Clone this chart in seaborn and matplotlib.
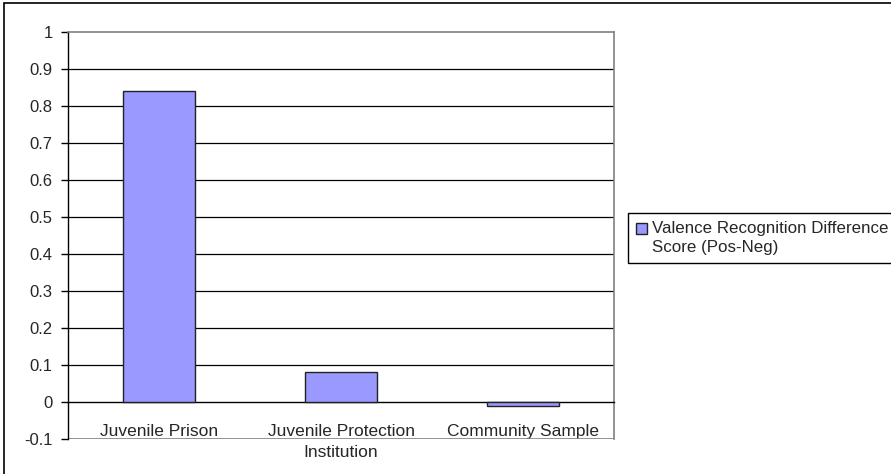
import pandas as pd
import seaborn as sns
import matplotlib.pyplot as plt
import matplotlib.ticker as ticker
from matplotlib.patches import Rectangle

# Data
groups = ['Juvenile Prison', 'Juvenile Protection\nInstitution', 'Community Sample']
scores = [0.84, 0.08, -0.01]
series_name = 'Valence Recognition Difference\nScore (Pos-Neg)'
y_ticks = [-0.1, 0.0, 0.1, 0.2, 0.3, 0.4, 0.5, 0.6, 0.7, 0.8, 0.9, 1.0]

df = pd.DataFrame({'Group': groups, 'Score': scores, 'Series': series_name})

sns.set_style('white')
plt.rcParams['font.family'] = ['Liberation Sans', 'DejaVu Sans']
plt.rcParams['axes.unicode_minus'] = False

fig = plt.figure(figsize=(8.91, 4.74), dpi=100)
ax = fig.add_axes([68 / 891, 35 / 474, 546 / 891, 407 / 474])

sns.barplot(data=df, x='Group', y='Score', hue='Series', palette=['#9999FF'],
            width=0.4, edgecolor='#222222', linewidth=1, saturation=1, ax=ax, zorder=3)

ax.set_ylim(-0.1, 1.0)
ax.set_xlim(-0.5, 2.5)
ax.set_yticks(y_ticks)
ax.yaxis.set_major_formatter(ticker.FuncFormatter(lambda v, pos: f'{round(v, 1):g}'))
ax.set_xlabel(None)
ax.set_ylabel(None)

# horizontal gridlines, black like the Excel original
for v in y_ticks[2:-1]:
    ax.axhline(v, color='black', linewidth=0.9, zorder=1)
ax.axhline(-0.1, color='#808080', linewidth=1.2, zorder=1)

# axis frame
ax.spines['bottom'].set_position(('data', 0))
ax.spines['bottom'].set_color('black')
ax.spines['bottom'].set_linewidth(1)
ax.spines['left'].set_color('black')
ax.spines['left'].set_linewidth(1)
for side in ['top', 'right']:
    ax.spines[side].set_color('#808080')
    ax.spines[side].set_linewidth(1.2)

# category labels sit below the zero line, tick marks between categories
ax.set_xticks([0, 1, 2])
ax.set_xticklabels(groups, fontsize=12.5, va='top', linespacing=1.45)
ax.set_xticks([0.5, 1.5, 2.5], minor=True)
ax.tick_params(axis='x', which='major', length=0, pad=16)
ax.tick_params(axis='x', which='minor', length=4, direction='in', color='black', width=1)
ax.tick_params(axis='y', which='major', length=5, direction='out', color='black',
               width=1, labelsize=12, pad=6, left=True)

# legend box on the right
handles, labels = ax.get_legend_handles_labels()
leg = ax.legend(handles, labels, loc='upper left', bbox_to_anchor=(628 / 891, 1 - 213 / 474),
                bbox_transform=fig.transFigure, frameon=True, fancybox=False,
                edgecolor='black', framealpha=1, fontsize=12.2, handlelength=0.65,
                handleheight=0.65, handletextpad=0.3, borderpad=0.45, borderaxespad=0)
leg.get_frame().set_linewidth(1)
for t in leg.get_texts():
    t.set_linespacing(1.4)
# Excel puts the swatch next to the first line of the label
for h in leg.legend_handles:
    h.set_y(h.get_y() + 7)

# outer chart frame (cut off on the right and bottom in the original)
fig.patches.append(Rectangle((4 / 891, -0.2), 1.2, 1.2 - 3 / 474, transform=fig.transFigure,
                             fill=False, edgecolor='black', linewidth=1.2, clip_on=False))

fig.savefig('out.png', dpi=100)
